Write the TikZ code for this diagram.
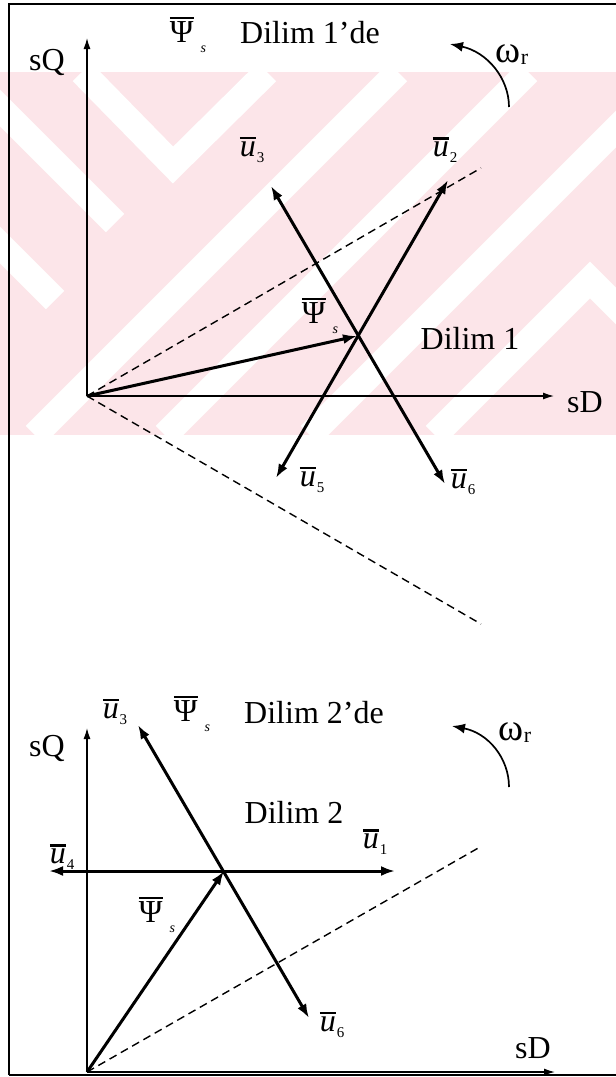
\documentclass[tikz,border=0pt]{standalone}
\usepackage{fontspec}
\setmainfont{Liberation Serif}
\usetikzlibrary{arrows.meta}
\definecolor{wmpink}{RGB}{252,229,233}
\newcommand\barred[1]{\vbox{\hrule height 2.4pt\kern 2.6pt\hbox{#1}}}
\newcommand\uvec[1]{\barred{\itshape u}\kern 1pt\raisebox{-6pt}{\fontsize{15}{15}\selectfont #1}}
\newcommand\psis{\barred{Ψ}\kern 7pt\raisebox{-10pt}{\fontsize{14}{14}\selectfont\itshape s}}
\newcommand\omr{{\fontsize{38}{38}\selectfont ω}\raisebox{-2pt}{\fontsize{22}{22}\selectfont r}}

\begin{document}
\begin{tikzpicture}[x=1pt, y=-1pt, line join=miter,
    lbl/.style={inner sep=0pt, font=\fontsize{32}{38}\selectfont},
    axis/.style={line width=1.3pt, -{Latex[length=11pt,width=7pt]}},
    vec/.style={line width=3pt, -{Latex[length=14pt,width=10pt]}},
    dvec/.style={line width=3pt, {Latex[length=14pt,width=10pt]}-{Latex[length=14pt,width=10pt]}},
    sector/.style={line width=1.4pt, dash pattern=on 8pt off 5pt},
    rot/.style={line width=1.7pt, -{Latex[length=13pt,width=10pt]}},
    stripe/.style={white, line width=26pt}]
  \useasboundingbox (0,0) rectangle (616,1077);

  % filigran
  \begin{scope}
    \clip (0,72) rectangle (616,435);
    \fill[wmpink] (0,72) rectangle (616,435);
    \draw[stripe] (82,72) -- (173,165) -- (267,72);
    \draw[stripe] (35,435) -- (398,72);
    \draw[stripe] (165,435) -- (528,72);
    \draw[stripe] (310,435) -- (673,72);
    \draw[stripe] (435,435) -- (590,280) -- (745,435);
    \draw[stripe] (-20,88) -- (115,223);
    \draw[stripe] (-20,225) -- (55,300);
  \end{scope}

  % cerceve
  \draw[line width=1.8pt] (9,1075) -- (9,4) -- (616,4);
  \draw[line width=1.5pt] (9,1075) -- (616,1075);

  % Dilim 1
  \coordinate (o1) at (87,396);
  \coordinate (q1) at (87,38);
  \coordinate (d1) at (554,396);
  \coordinate (p1) at (357,336);
  \coordinate (u2a) at (448,180);
  \coordinate (u5a) at (276,478);
  \coordinate (u3a) at (271,186);
  \coordinate (u6a) at (445,484);
  \coordinate (s1a) at (481,168);
  \coordinate (s1b) at (481,624);
  \coordinate (w1a) at (509,107);
  \coordinate (w1b) at (450,44);
  \draw[axis] (o1) -- (q1);
  \draw[axis] (o1) -- (d1);
  \draw[sector] (o1) -- (s1a);
  \draw[sector] (o1) -- (s1b);
  \draw[dvec] (u5a) -- (u2a);
  \draw[dvec] (u3a) -- (u6a);
  \draw[vec] (o1) -- (p1);
  \draw[rot] (w1a) .. controls (509,78) and (487,52) .. (w1b);
  \node[lbl] (sq1) at (47,62) {sQ};
  \node[lbl] (sd1) at (585,402) {sD};
  \node[lbl] (hp1) at (188,35) {\psis};
  \node[lbl] (hd1) at (310,33) {Dilim 1’de};
  \node[lbl] (om1) at (512,55) {\omr};
  \node[lbl] (lu3) at (252,150) {\uvec{3}};
  \node[lbl] (lu2) at (445,150) {\uvec{2}};
  \node[lbl] (lu5) at (312,480) {\uvec{5}};
  \node[lbl] (lu6) at (463,482) {\uvec{6}};
  \node[lbl] (lp1) at (320,316) {\psis};
  \node[lbl] (ld1) at (470,338) {Dilim 1};

  % Dilim 2
  \coordinate (o2) at (87,1072);
  \coordinate (q2) at (87,728);
  \coordinate (d2) at (555,1072);
  \coordinate (p2) at (224,871);
  \coordinate (u1b) at (395,871);
  \coordinate (u4b) at (49,871);
  \coordinate (u3b) at (138,725);
  \coordinate (u6b) at (309,1018);
  \coordinate (s2a) at (480,847);
  \coordinate (w2a) at (509,787);
  \coordinate (w2b) at (452,726);
  \draw[axis] (o2) -- (q2);
  \draw[axis] (o2) -- (d2);
  \draw[sector] (o2) -- (s2a);
  \draw[dvec] (u4b) -- (u1b);
  \draw[dvec] (u3b) -- (u6b);
  \draw[vec] (o2) -- (p2);
  \draw[rot] (w2a) .. controls (509,758) and (488,733) .. (w2b);
  \node[lbl] (sq2) at (47,748) {sQ};
  \node[lbl] (sd2) at (533,1048) {sD};
  \node[lbl] (lu3b) at (115,712) {\uvec{3}};
  \node[lbl] (hp2) at (192,714) {\psis};
  \node[lbl] (hd2) at (314,713) {Dilim 2’de};
  \node[lbl] (om2) at (515,733) {\omr};
  \node[lbl] (ld2) at (294,812) {Dilim 2};
  \node[lbl] (lu1) at (375,842) {\uvec{1}};
  \node[lbl] (lu4) at (62,857) {\uvec{4}};
  \node[lbl] (lp2) at (157,915) {\psis};
  \node[lbl] (lu6b) at (332,1025) {\uvec{6}};
\end{tikzpicture}
\end{document}
